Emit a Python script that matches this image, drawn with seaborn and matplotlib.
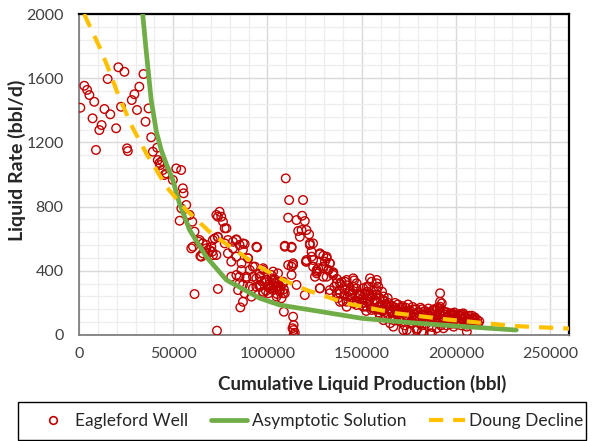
import matplotlib
matplotlib.use("Agg")
import matplotlib.pyplot as plt
from matplotlib.ticker import MultipleLocator
from matplotlib.lines import Line2D
from matplotlib.patches import Rectangle
import pandas as pd
import seaborn as sns

# ---- Eagleford well production data (cumulative bbl, rate bbl/d) ----
early_cum = [700, 2800, 4300, 5500, 8100, 7200, 9000, 10800, 12000, 13500, 15200, 16600,
             19700, 20900, 22300, 24100, 25500, 25900, 28000, 29400, 30800, 32000, 34200,
             35300, 36900, 38300, 39200, 41500, 42700, 44000, 41800, 43100, 44500, 45400,
             46300, 49800, 51600, 54200, 55100, 55500, 56900, 54300, 58700, 53400, 60100]
early_rate = [1416, 1553, 1527, 1495, 1453, 1350, 1153, 1277, 1308, 1408, 1595, 1375,
              1288, 1668, 1422, 1640, 1163, 1146, 1464, 1500, 1402, 1547, 1626,
              1329, 1412, 1232, 1142, 1167, 1072, 1084, 1090, 1059, 1028, 997,
              1007, 966, 1038, 1028, 914, 883, 810, 789, 748, 712, 706]

mid_cum = [74600, 75500, 73700, 76400, 77300, 72900, 78200, 61300, 64000, 65700, 60500,
           67500, 70200, 72000, 73700, 59600, 68400, 70700, 79000, 83500, 81700, 85200,
           87000, 79000, 63600, 64400, 71100, 65700, 64900, 72900, 77300, 94500, 61300,
           73700, 73200, 69300, 67500, 71000, 73700, 83500, 87900, 80800, 89700, 86200,
           80800, 85200, 88800, 92300, 95900, 97700, 99500, 102100, 103900, 95900, 92300,
           87000, 84400, 87900, 87000, 85600, 94100, 100300, 103000, 97700, 105600, 90600,
           93300, 81700, 87000, 94100, 83500, 89700, 86200, 92300, 97700, 103000, 105600,
           83500, 88800, 94100, 99500, 104800, 108300, 85200, 90600, 95900, 101200, 106500,
           109200, 91500, 104800, 107400, 97700, 102100, 95900, 98600, 100800, 104200,
           106900, 99200, 101700, 96800, 103400, 108700, 100500, 105100]
mid_rate = [768, 737, 737, 706, 665, 748, 665, 644, 592, 571, 550,
            540, 550, 602, 609, 540, 509, 519, 592, 596, 540, 561,
            530, 509, 581, 492, 498, 509, 488, 498, 571, 546, 255,
            287, 27, 530, 561, 592, 612, 592, 567, 457, 478, 405,
            363, 363, 353, 363, 384, 405, 343, 353, 322, 312, 291,
            312, 280, 260, 207, 172, 301, 301, 280, 270, 301, 405,
            426, 581, 571, 550, 488, 478, 447, 426, 416, 395, 384,
            374, 363, 353, 343, 332, 322, 322, 301, 301, 291, 280,
            260, 239, 239, 229, 260, 374, 363, 330, 315, 345,
            300, 275, 290, 335, 310, 285, 260, 255]

upper_cum = [109700, 111500, 118900, 111000, 115400, 118400, 119800, 116300, 118100, 117200,
             120700, 122100, 109200, 112800, 122500, 124200, 123400, 113600, 112800, 120400,
             123400, 127800, 129600, 131400, 130500, 133100, 126900, 129600, 132300, 134900,
             126100, 103000, 104800, 106500, 108300, 105600, 108300, 108700, 113600, 113900,
             113900, 113900, 113300, 114500, 113600, 112800, 115400, 120700, 124200, 126100,
             129600, 132300, 134900, 127800, 133100, 136700, 138500, 141100, 143800, 145500,
             142000, 149100, 152700, 155300, 158000, 158800, 154400, 157100, 161500, 163300,
             147300, 152700, 159700, 111000, 122500, 127800, 124200, 131400, 126100, 129600,
             133100, 125200, 131400, 134900, 127800, 133100, 120700, 119800, 109200, 112800,
             138500, 142000, 145500, 147300, 136700, 141100, 143800, 149100, 154400, 158000,
             152700, 157100, 138500, 147300, 150800, 142000, 158800, 155300, 145500, 150800,
             158000]
upper_rate = [976, 841, 841, 731, 716, 743, 710, 648, 654, 612,
              654, 627, 556, 544, 561, 571, 519, 447, 426, 457,
              488, 503, 494, 478, 457, 447, 416, 416, 405, 391,
              395, 343, 301, 270, 260, 322, 332, 145, 114, 62,
              31, 0, 42, 14, 436, 374, 312, 457, 426, 384,
              363, 405, 374, 291, 260, 322, 260, 332, 280, 197,
              207, 249, 301, 332, 343, 301, 249, 218, 218, 176,
              187, 176, 156, 436, 571, 509, 467, 488, 405, 426,
              447, 363, 363, 384, 291, 280, 467, 249, 550, 550,
              322, 343, 353, 322, 260, 280, 249, 260, 353, 322,
              229, 207, 207, 207, 176, 176, 176, 156, 301, 291,
              280]

late_cum = [135500, 136800, 138100, 139400, 140700, 142000, 143300, 144600, 145900, 147200,
            148500, 149800, 137400, 139900, 142600, 145100, 147800, 150300, 152900, 155600]
late_rate = [300, 350, 280, 330, 250, 310, 270, 230, 340, 290,
             250, 220, 230, 210, 240, 260, 230, 200, 270, 250]

band_cum = [150500, 151200, 151800, 152400, 153000, 153600, 154200, 154800, 155400, 156000,
            156600, 157200, 157800, 158400, 159000, 159600, 160200, 160800, 161400, 162000,
            162600, 163200, 163800, 164400, 165000, 165600, 166200, 166800, 167400, 168000,
            168600, 169200, 169800, 170400, 171000, 171600, 172200, 172800, 173400, 174000,
            174600, 175200, 175800, 176400, 177000, 177600, 178200, 178800, 179400, 180000,
            180600, 181200, 181800, 182400, 183000, 183600, 184200, 184800, 185400, 186000,
            186600, 187200, 187800, 188400, 189000, 189600, 190200, 190800, 191400, 192000,
            192600, 193200, 193800, 194400, 195000, 195600, 196200, 196800, 197400, 198000,
            198600, 199200, 199800, 200400, 201000, 201600, 202200, 202800, 203400, 204000,
            204600, 205200, 205800, 206400, 207000, 207600, 208200, 208800, 209400, 210000,
            210600, 211200, 211800, 212400, 191600, 191600, 191600, 192500, 191300, 166800,
            172100, 175700, 179200, 182800, 187200, 189900, 198800, 205800, 165100, 173900,
            181900, 186300, 193400, 205800, 159700, 161500, 170400, 177400, 184600, 195200,
            202300, 209400, 163300, 167900, 176100, 183100, 188700, 197900, 203900, 171300]
band_rate = [230, 180, 260, 150, 210, 300, 190, 240, 170, 280,
             220, 160, 250, 200, 140, 230, 180, 270, 150, 210,
             120, 190, 230, 160, 100, 185, 140, 175, 90, 170,
             130, 190, 110, 160, 80, 180, 140, 60, 170, 120,
             190, 100, 150, 70, 175, 130, 90, 160, 40, 140,
             110, 170, 60, 130, 100, 150, 70, 120, 165, 90,
             130, 50, 110, 150, 80, 120, 170, 95, 140, 60,
             115, 150, 85, 125, 60, 140, 100, 130, 75, 120,
             95, 140, 70, 110, 130, 85, 120, 60, 100, 125,
             80, 110, 65, 100, 120, 80, 105, 70, 95, 110,
             80, 95, 70, 85, 260, 207, 176, 197, 166, 52,
             31, 21, 31, 10, 10, 42, 52, 52, 73, 31,
             21, 10, 42, 21, 114, 93, 145, 114, 104, 114,
             104, 104, 176, 156, 135, 145, 156, 135, 135, 145]

tail_cum = [160500, 161700, 162900, 164100, 165300, 166500, 167700, 168900, 170100, 171300,
            172500, 173700, 174900, 176100, 177300, 178500, 179700, 180900, 182100, 183300,
            184500, 185700, 186900, 188100, 189300, 190500, 191700, 192900, 194100, 195300,
            196500, 197700, 198900, 200100, 201300, 202500, 203700, 204900, 206100, 207300,
            208500, 209700, 210900]
tail_rate = [160, 240, 110, 200, 150, 120, 200, 140, 90, 170,
             110, 150, 130, 80, 160, 110, 140, 70, 160, 120,
             90, 140, 100, 160, 110, 75, 130, 100, 145, 90,
             115, 70, 125, 100, 80, 130, 95, 115, 75, 90,
             120, 90, 75]

# ---- model curves ----
asym_cum = [33800, 35600, 38300, 41000, 43600, 46500, 49800, 53300, 58700, 67500,
            78200, 95900, 106500, 128700, 150000, 175700, 200000, 232000]
asym_rate = [2000, 1776, 1464, 1270, 1153, 1060, 966, 820, 654, 488,
             343, 229, 187, 145, 104, 77, 56, 31]

doung_cum = [2700, 10800, 15200, 21400, 28500, 36200, 41000, 46300, 56900, 71100,
             81700, 94100, 108300, 120800, 142000, 168600, 195200, 230700, 260000]
doung_rate = [2000, 1796, 1672, 1478, 1291, 1121, 1030, 924, 779, 623,
              540, 436, 343, 280, 197, 135, 97, 56, 40]

well = pd.DataFrame({
    "cum": early_cum + mid_cum + upper_cum + late_cum + band_cum + tail_cum,
    "rate": early_rate + mid_rate + upper_rate + late_rate + band_rate + tail_rate,
})
asym = pd.DataFrame({"cum": asym_cum, "rate": asym_rate})
doung = pd.DataFrame({"cum": doung_cum, "rate": doung_rate})

RED = "#C00000"
GREEN = "#70AD47"
ORANGE = "#FFC000"
DASH = (3.4, 2.4)

sns.set_style("white")
plt.rcParams["font.family"] = ["Lato", "DejaVu Sans"]

W, H = 592, 441
fig = plt.figure(figsize=(W / 100, H / 100), dpi=100)
ax = fig.add_axes([79 / W, 1 - 335 / H, 490 / W, 321 / H])

# grid
ax.xaxis.set_major_locator(MultipleLocator(50000))
ax.xaxis.set_minor_locator(MultipleLocator(10000))
ax.yaxis.set_major_locator(MultipleLocator(400))
ax.yaxis.set_minor_locator(MultipleLocator(80))
ax.grid(which="major", color="#D9D9D9", linewidth=1.0)
ax.grid(which="minor", color="#EDEDED", linewidth=0.9)
ax.set_axisbelow(True)

sns.scatterplot(data=well, x="cum", y="rate", ax=ax, marker="o", s=38,
                facecolor="none", edgecolor=RED, linewidth=1.0, zorder=3, legend=False)
sns.lineplot(data=asym, x="cum", y="rate", ax=ax, color=GREEN, linewidth=3.4,
             zorder=4, legend=False, estimator=None)
sns.lineplot(data=doung, x="cum", y="rate", ax=ax, color=ORANGE, linewidth=3.0,
             zorder=5, legend=False, estimator=None)
ax.lines[-1].set_dashes(DASH)

ax.set_xlim(0, 260000)
ax.set_ylim(0, 2000)

ax.tick_params(axis="both", which="both", length=0, labelsize=11.5, colors="#404040")
ax.tick_params(axis="x", pad=9)
ax.tick_params(axis="y", pad=11)

ax.set_xlabel("Cumulative Liquid Production (bbl)", fontsize=13.5, fontweight="bold",
              color="#262626")
ax.set_ylabel("Liquid Rate (bbl/d)", fontsize=14, fontweight="bold", color="#262626")
ax.xaxis.set_label_coords((362 - 79) / 490, (335 - 375) / 321)
ax.yaxis.set_label_coords((26 - 79) / 490, (335 - 160) / 321)

for side in ["left", "bottom"]:
    ax.spines[side].set_color("#7F7F7F")
    ax.spines[side].set_linewidth(1.3)
for side in ["top", "right"]:
    ax.spines[side].set_color("black")
    ax.spines[side].set_linewidth(1.6)

# legend box below the chart
fig.patches.append(Rectangle((18 / W, 1 - 440 / H), 568 / W, 38 / H,
                             transform=fig.transFigure, fill=False,
                             edgecolor="black", linewidth=1.0))
handles = [
    Line2D([], [], linestyle="none", marker="o", markersize=5.5, markerfacecolor="none",
           markeredgecolor=RED, markeredgewidth=1.2),
    Line2D([], [], color=GREEN, linewidth=3.4),
    Line2D([], [], color=ORANGE, linewidth=3.0, dashes=DASH),
]
labels = ["Eagleford Well", "Asymptotic Solution", "Doung Decline"]
leg = fig.legend(handles, labels, loc="center", ncol=3,
                 bbox_to_anchor=(309 / W, 1 - 421 / H), fontsize=12.5,
                 frameon=False, handlelength=2.1, handletextpad=0.25,
                 columnspacing=1.3)
for t in leg.get_texts():
    t.set_color("#262626")

fig.savefig("out.png", dpi=100)
